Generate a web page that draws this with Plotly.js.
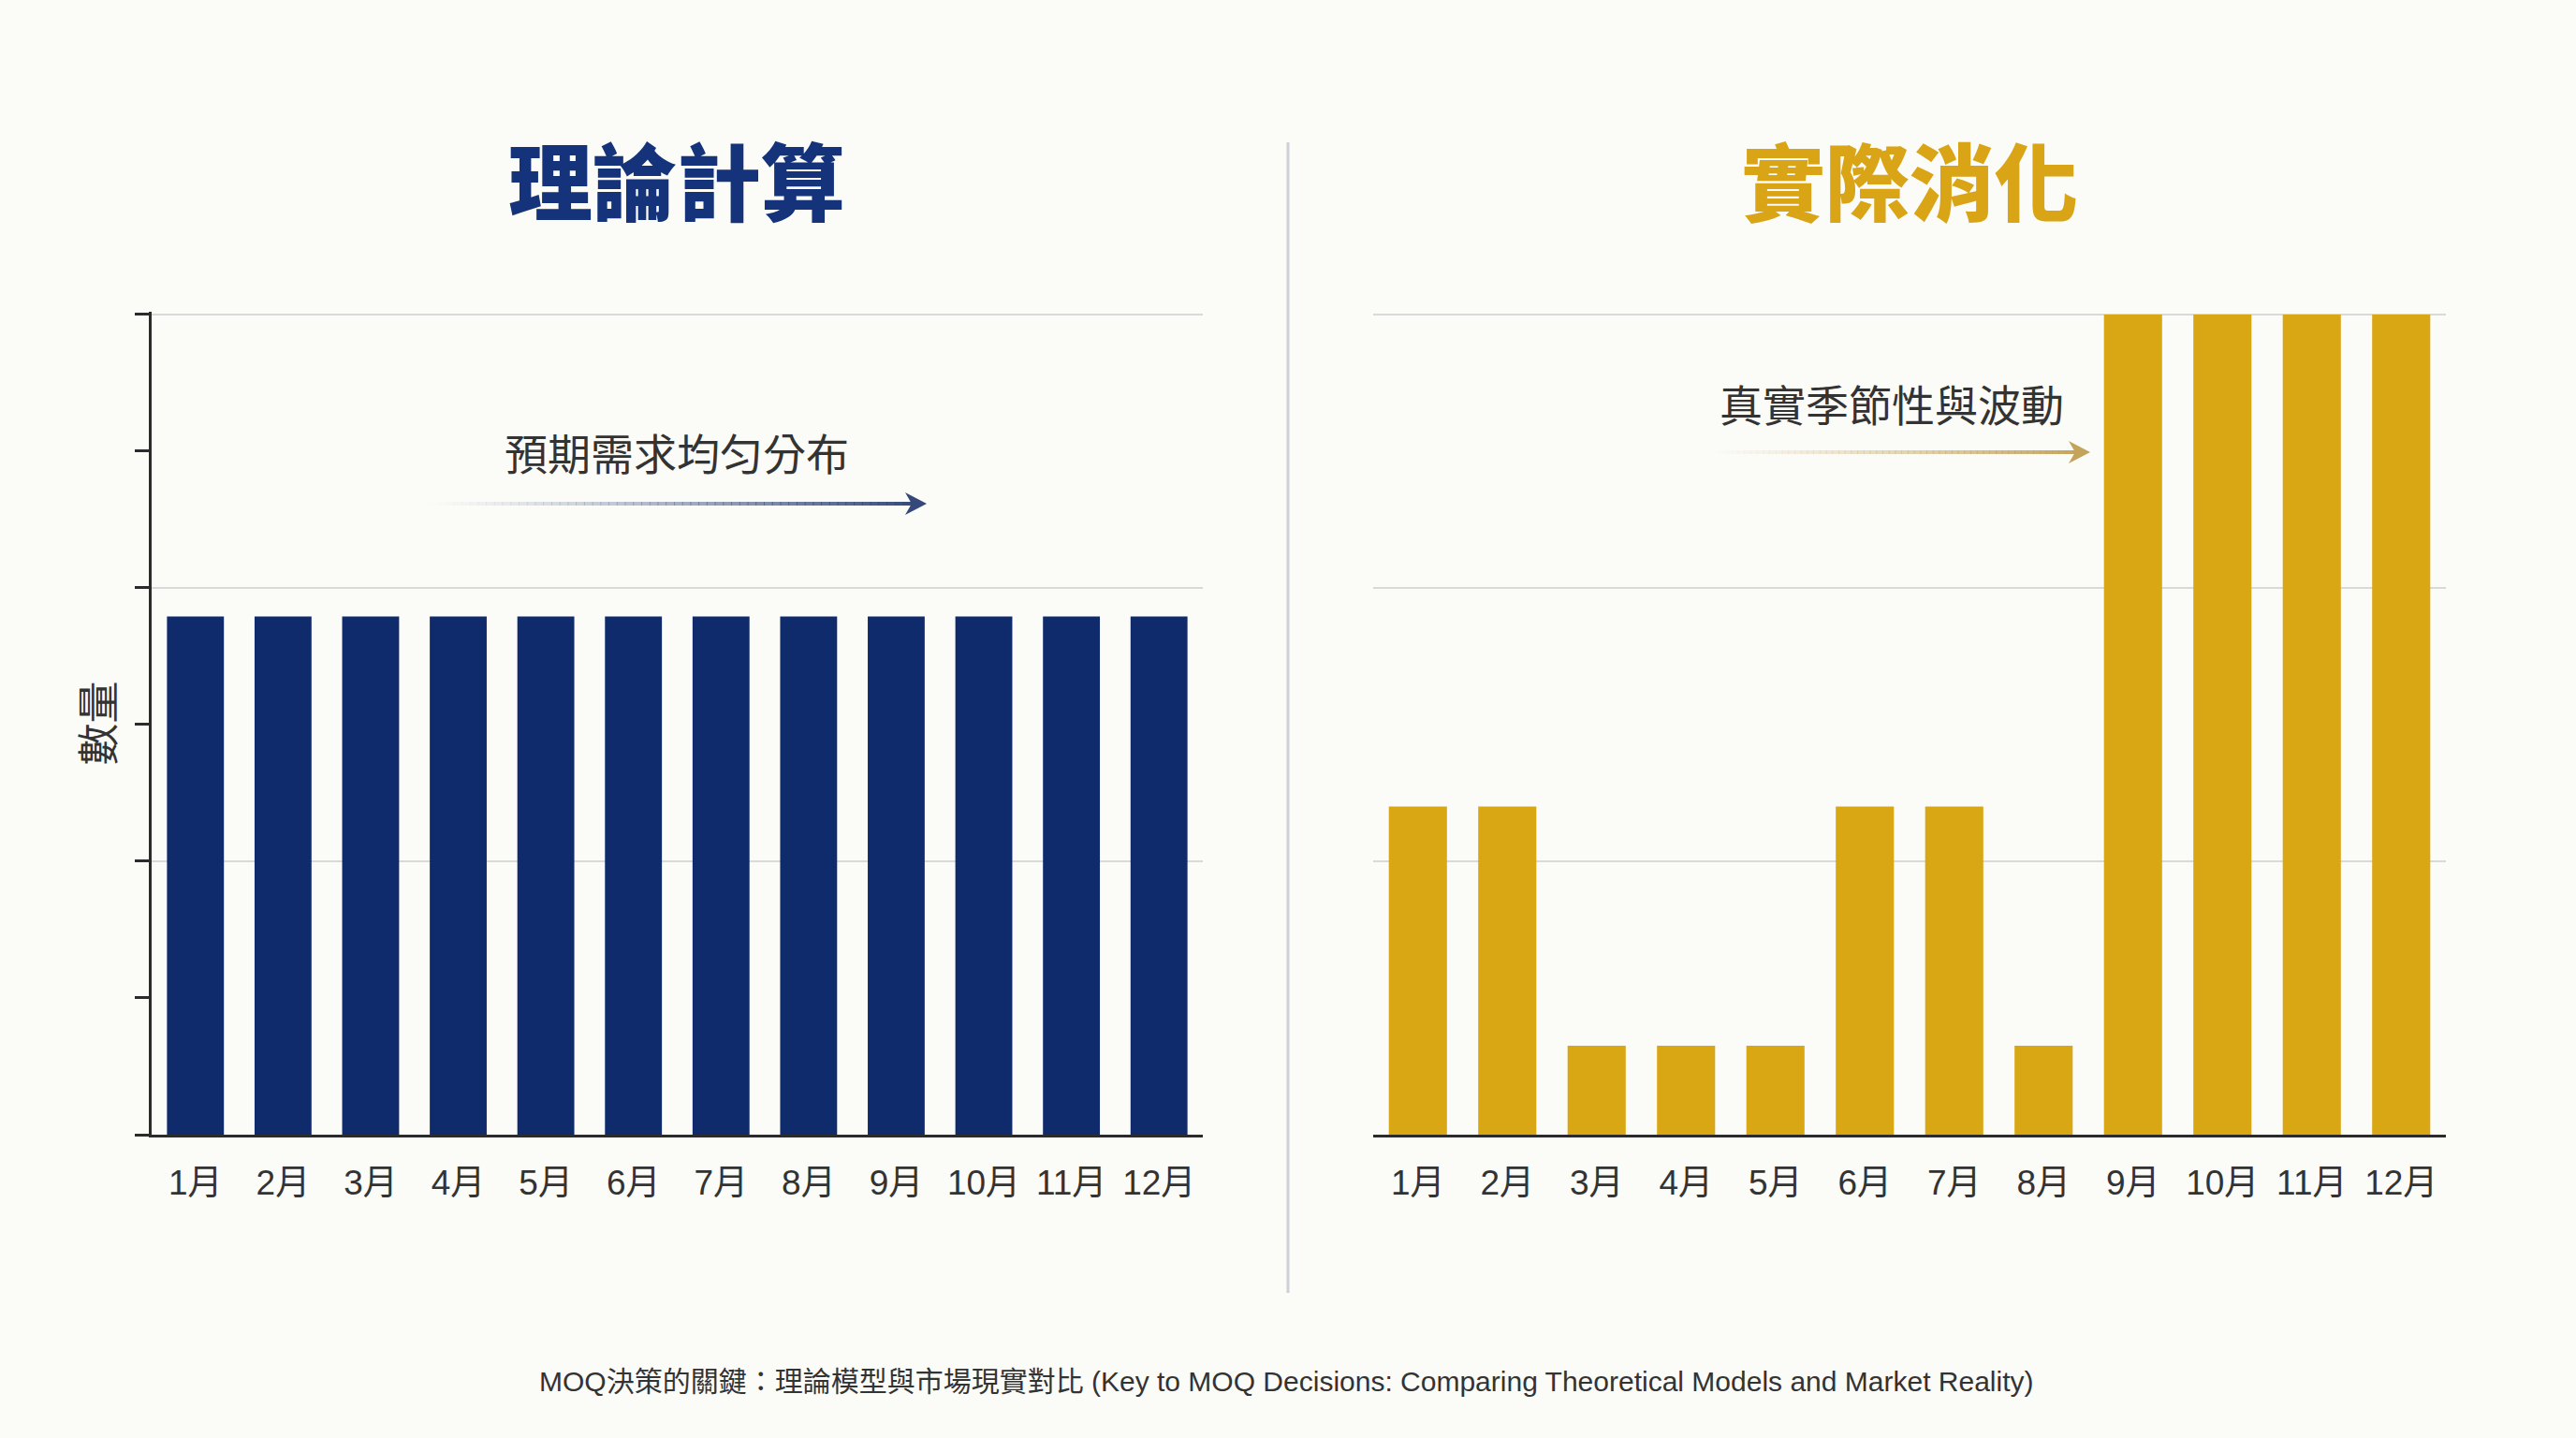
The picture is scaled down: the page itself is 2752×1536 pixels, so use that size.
<!DOCTYPE html>
<html>
<head>
<meta charset="utf-8">
<script src="https://cdn.plot.ly/plotly-3.0.1.min.js"></script>
<style>
  html, body { margin: 0; padding: 0; background: #fbfbf8; }
  #chart { width: 2752px; height: 1536px; }
</style>
</head>
<body>
<div id="chart"></div>
<script>
// ---- Data ----
const months = ['1月','2月','3月','4月','5月','6月','7月','8月','9月','10月','11月','12月'];
const theoretical = [75.8, 75.8, 75.8, 75.8, 75.8, 75.8, 75.8, 75.8, 75.8, 75.8, 75.8, 75.8];
const actual = [48, 48, 13, 13, 13, 48, 48, 13, 120, 120, 120, 120];
const leftTitle = '理論計算';
const rightTitle = '實際消化';
const leftNote = '預期需求均匀分布';
const rightNote = '真實季節性與波動';
const yTitle = '數量';
const footer = 'MOQ決策的關鍵：理論模型與市場現實對比 (Key to MOQ Decisions: Comparing Theoretical Models and Market Reality)';

// ---- Styles ----
const NAVY = '#0f2b6c';
const GOLD = '#d9a614';
const TEXT = '#333333';
const GRID = '#d9d9d9';
const AXIS = '#2b2b2b';
const FONT = 'Liberation Sans, Arial, "Noto Sans CJK TC", sans-serif';
const CJK = '"Noto Sans CJK TC", "Noto Sans CJK SC", sans-serif';

const traces = [
  { type: 'bar', x: months, y: theoretical, xaxis: 'x', yaxis: 'y',
    marker: { color: NAVY }, hoverinfo: 'x+y', showlegend: false },
  { type: 'bar', x: months, y: actual, xaxis: 'x2', yaxis: 'y2',
    marker: { color: GOLD }, hoverinfo: 'x+y', showlegend: false }
];

const xCommon = {
  type: 'category', showline: true, linecolor: AXIS, linewidth: 3,
  ticks: '', showgrid: false, zeroline: false, fixedrange: true,
  tickfont: { family: FONT, size: 37, color: TEXT }, ticklabelstandoff: 17
};
const yCommon = {
  range: [0, 120.4], dtick: 40, tick0: 0, showgrid: true, gridcolor: GRID, gridwidth: 2,
  zeroline: false, showticklabels: false, fixedrange: true
};

// gradient arrow made of short segments
function gradientArrow(x0, x1, y, rgb, segs) {
  const shapes = [];
  for (let i = 0; i < segs; i++) {
    const a = Math.pow((i + 1) / segs, 1.3);
    shapes.push({ type: 'line', xref: 'paper', yref: 'paper',
      x0: x0 + (x1 - x0) * i / segs, x1: x0 + (x1 - x0) * (i + 1) / segs + 0.0003,
      y0: y, y1: y, line: { color: `rgba(${rgb},${a.toFixed(3)})`, width: 4 } });
  }
  return shapes;
}
function arrowHead(xTip, y, rgb) {
  const w = 23 / 2752, h = 12 / 1536;
  return { type: 'path', xref: 'paper', yref: 'paper',
    path: `M ${xTip} ${y} L ${xTip - w} ${y + h} L ${xTip - w * 0.7} ${y} L ${xTip - w} ${y - h} Z`,
    fillcolor: `rgb(${rgb})`, line: { width: 0 } };
}

const leftArrowY = 1 - 538 / 1536, rightArrowY = 1 - 483 / 1536;
const shapes = [
  { type: 'line', xref: 'paper', yref: 'paper', x0: 1376 / 2752, x1: 1376 / 2752,
    y0: 1 - 152 / 1536, y1: 1 - 1381 / 1536, line: { color: '#cdd0d6', width: 3 } },
  ...gradientArrow(458 / 2752, 982 / 2752, leftArrowY, '52,73,122', 60),
  arrowHead(990 / 2752, leftArrowY, '52,73,122'),
  ...gradientArrow(1823 / 2752, 2226 / 2752, rightArrowY, '196,163,90', 60),
  arrowHead(2233 / 2752, rightArrowY, '196,163,90')
];

const layout = {
  width: 2752, height: 1536,
  paper_bgcolor: '#fbfbf8', plot_bgcolor: '#fbfbf8',
  margin: { l: 0, r: 0, t: 0, b: 0 },
  bargap: 0.35,
  showlegend: false,
  font: { family: FONT, color: TEXT },
  xaxis: Object.assign({}, xCommon, { domain: [162 / 2752, 1285 / 2752], anchor: 'y' }),
  yaxis: Object.assign({}, yCommon, {
    domain: [1 - 1212 / 1536, 1 - 333 / 1536], anchor: 'x',
    showline: true, linecolor: AXIS, linewidth: 3,
    ticks: 'outside', ticklen: 15, tickwidth: 3, tickcolor: AXIS,
    minor: { dtick: 20, ticks: 'outside', ticklen: 15, tickwidth: 3, tickcolor: AXIS, showgrid: false },
    title: { text: yTitle, font: { family: CJK, size: 45, color: TEXT }, standoff: 8 }
  }),
  xaxis2: Object.assign({}, xCommon, { domain: [1467 / 2752, 2613 / 2752], anchor: 'y2' }),
  yaxis2: Object.assign({}, yCommon, {
    domain: [1 - 1212 / 1536, 1 - 333 / 1536], anchor: 'x2', showline: false, ticks: ''
  }),
  shapes: shapes,
  annotations: [
    { text: leftTitle, xref: 'paper', yref: 'paper', x: 723 / 2752, y: 1 - 190 / 1536,
      xanchor: 'center', yanchor: 'middle', showarrow: false,
      font: { family: CJK, size: 90, color: '#14337a', weight: 900 } },
    { text: rightTitle, xref: 'paper', yref: 'paper', x: 2040 / 2752, y: 1 - 190 / 1536,
      xanchor: 'center', yanchor: 'middle', showarrow: false,
      font: { family: CJK, size: 90, color: '#d9a516', weight: 900 } },
    { text: leftNote, xref: 'paper', yref: 'paper', x: 723 / 2752, y: 1 - 482 / 1536,
      xanchor: 'center', yanchor: 'middle', showarrow: false,
      font: { family: CJK, size: 46, color: TEXT } },
    { text: rightNote, xref: 'paper', yref: 'paper', x: 2021 / 2752, y: 1 - 430 / 1536,
      xanchor: 'center', yanchor: 'middle', showarrow: false,
      font: { family: CJK, size: 46, color: TEXT } },
    { text: footer, xref: 'paper', yref: 'paper', x: 1374 / 2752, y: 1 - 1475 / 1536,
      xanchor: 'center', yanchor: 'middle', showarrow: false,
      font: { family: FONT, size: 30, color: TEXT } }
  ]
};

Plotly.newPlot('chart', traces, layout, { displayModeBar: false, responsive: false });
</script>
</body>
</html>
